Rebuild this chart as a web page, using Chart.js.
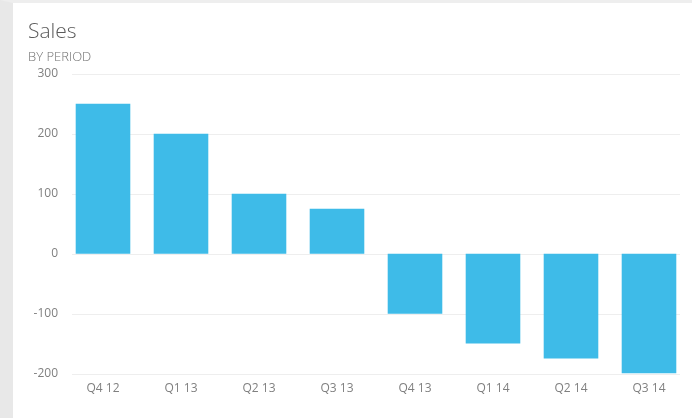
<!DOCTYPE html>
<html>
<head>
<meta charset="utf-8">
<script src="https://cdn.jsdelivr.net/npm/chart.js@4/dist/chart.umd.min.js"></script>
<style>
    html, body {
        margin: 0;
        padding: 0;
        background: #ffffff;
    }
    #frame {
        width: 679px;
        height: 415px;
        border-left: 13px solid #e8e8e8;
        border-top: 3px solid #eeeeee;
        background: #ffffff;
    }
    #salesChart {
        display: block;
    }
</style>
</head>
<body>
<div id="frame">
    <canvas id="salesChart" width="679" height="415"></canvas>
</div>
<script>
const periods = ["Q4 12", "Q1 13", "Q2 13", "Q3 13", "Q4 13", "Q1 14", "Q2 14", "Q3 14"];
const sales = [250, 200, 100, 75, -100, -150, -175, -200];
const yTicks = [-200, -100, 0, 100, 200, 300];

const barColor = "#3ebbe8";
const gridColor = "#eeeeee";
const labelColor = "#808080";

// horizontal gridlines, inset a little from both ends of the plot area
const insetGrid = {
    id: "insetGrid",
    beforeDatasetsDraw(chart) {
        const { ctx, chartArea } = chart;
        const y = chart.scales.y;
        ctx.save();
        ctx.strokeStyle = gridColor;
        ctx.lineWidth = 1;
        yTicks.forEach(v => {
            const py = Math.round(y.getPixelForValue(v)) + 0.5;
            ctx.beginPath();
            ctx.moveTo(chartArea.left + 8, py);
            ctx.lineTo(chartArea.right - 8, py);
            ctx.stroke();
        });
        ctx.restore();
    }
};

new Chart(document.getElementById("salesChart"), {
    type: "bar",
    data: {
        labels: periods,
        datasets: [{
            label: "Sales",
            data: sales,
            backgroundColor: barColor,
            borderWidth: 0,
            categoryPercentage: 1,
            barPercentage: 0.7
        }]
    },
    options: {
        responsive: false,
        animation: false,
        layout: {
            padding: { left: 15, right: 4, top: 0, bottom: 14 }
        },
        scales: {
            x: {
                grid: { display: false, drawTicks: false },
                border: { display: false },
                ticks: {
                    color: labelColor,
                    padding: 8,
                    maxRotation: 0,
                    font: { family: "'Open Sans', sans-serif", size: 12 }
                }
            },
            y: {
                min: -200,
                max: 300,
                afterBuildTicks(scale) {
                    scale.ticks = yTicks.map(v => ({ value: v }));
                },
                afterFit(scale) {
                    scale.width = 36;
                },
                grid: { display: false, drawTicks: false },
                border: { display: false },
                ticks: {
                    color: labelColor,
                    padding: 6,
                    font: { family: "'Open Sans', sans-serif", size: 12 },
                    callback: v => String(v)
                }
            }
        },
        plugins: {
            legend: { display: false },
            tooltip: { enabled: false },
            title: {
                display: true,
                text: "Sales",
                align: "start",
                color: "#5a5a5a",
                font: { family: "'Open Sans', sans-serif", size: 21, weight: "300" },
                padding: { top: 16, bottom: 0 }
            },
            subtitle: {
                display: true,
                text: "BY PERIOD",
                align: "start",
                color: "#707070",
                font: { family: "'Open Sans', sans-serif", size: 13, weight: "300" },
                padding: { top: 5, bottom: 9 }
            }
        }
    },
    plugins: [insetGrid]
});
</script>
</body>
</html>
